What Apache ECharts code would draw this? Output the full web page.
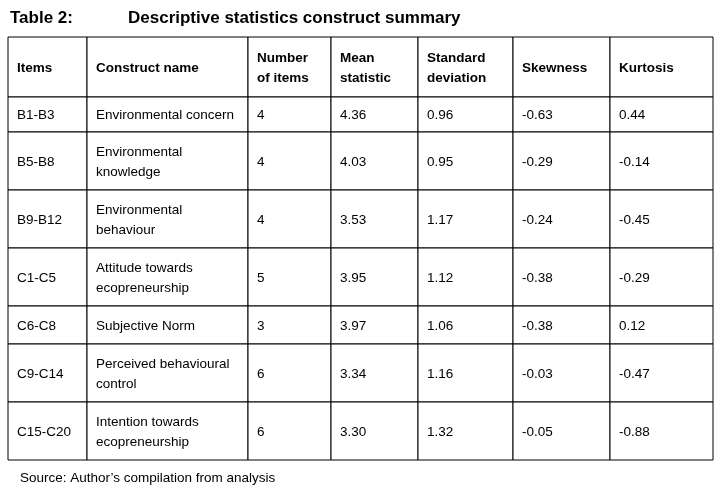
<!DOCTYPE html>
<html><head><meta charset="utf-8">
<script src="https://cdn.jsdelivr.net/npm/echarts@6/dist/echarts.min.js"></script>
<style>html,body{margin:0;padding:0;background:#fff}#c{width:716px;height:494px}</style>
</head><body><div id="c"></div>
<script>
const headers = ["Items","Construct name","Number\nof items","Mean\nstatistic","Standard\ndeviation","Skewness","Kurtosis"];
const items = ["B1-B3","B5-B8","B9-B12","C1-C5","C6-C8","C9-C14","C15-C20"];
const constructs = ["Environmental concern","Environmental\nknowledge","Environmental\nbehaviour","Attitude towards\necopreneurship","Subjective Norm","Perceived behavioural\ncontrol","Intention towards\necopreneurship"];
const numItems = ["4","4","4","5","3","6","6"];
const means = ["4.36","4.03","3.53","3.95","3.97","3.34","3.30"];
const sds = ["0.96","0.95","1.17","1.12","1.06","1.16","1.32"];
const skew = ["-0.63","-0.29","-0.24","-0.38","-0.38","-0.03","-0.05"];
const kurt = ["0.44","-0.14","-0.45","-0.29","0.12","-0.47","-0.88"];

// layout (pixel-space coordinates on hidden value axes)
const colEdges = [8, 87, 248, 331, 418, 513, 610, 713];
const rowEdges = [37, 97, 132, 190, 248, 306, 344, 402, 460];

const cols = [items, constructs, numItems, means, sds, skew, kurt];
const cells = [];
headers.forEach((h, c) => cells.push([c, 0, h, 1]));
for (let r = 0; r < items.length; r++)
  for (let c = 0; c < cols.length; c++) cells.push([c, r + 1, cols[c][r], 0]);

const chart = echarts.init(document.getElementById('c'));
chart.setOption({
  animation: false,
  grid: {left: 0, right: 0, top: 0, bottom: 0},
  xAxis: {type: 'value', min: 0, max: 716, show: false},
  yAxis: {type: 'value', min: 0, max: 494, inverse: true, show: false},
  title: [
    {text: 'Table 2:', left: 5, top: 5, textStyle: {fontFamily: 'Liberation Sans', fontSize: 17, fontWeight: 'bold', color: '#000'}},
    {text: 'Descriptive statistics construct summary', left: 123, top: 5, textStyle: {fontFamily: 'Liberation Sans', fontSize: 17, fontWeight: 'bold', color: '#000'}},
    {text: 'Source: Author\u2019s compilation from analysis', left: 15, top: 466, textStyle: {fontFamily: 'Liberation Sans', fontSize: 13.5, fontWeight: 'normal', color: '#000'}}
  ],
  series: [{
    type: 'custom',
    coordinateSystem: 'cartesian2d',
    data: cells,
    renderItem: function (params, api) {
      const c = api.value(0), r = api.value(1);
      const d = cells[params.dataIndex];
      const p0 = api.coord([colEdges[c], rowEdges[r]]);
      const p1 = api.coord([colEdges[c + 1], rowEdges[r + 1]]);
      return {
        type: 'group',
        children: [
          {type: 'rect', shape: {x: p0[0], y: p0[1], width: p1[0] - p0[0], height: p1[1] - p0[1]},
           style: {fill: '#fff', stroke: '#000', lineWidth: 1}},
          {type: 'text', style: {text: d[2], x: p0[0] + 9, y: (p0[1] + p1[1]) / 2 + 1,
            verticalAlign: 'middle', align: 'left', fill: '#000',
            font: (d[3] ? 'bold ' : '') + '13.5px "Liberation Sans"', lineHeight: 20}}
        ]
      };
    }
  }]
});
</script></body></html>
